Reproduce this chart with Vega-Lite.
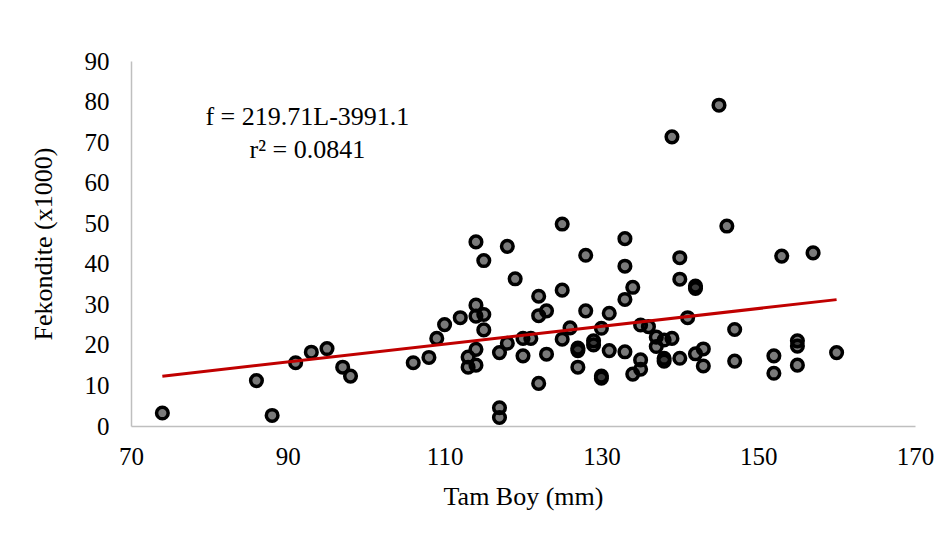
{
  "$schema": "https://vega.github.io/schema/vega-lite/v6.json",
  "width": 784,
  "height": 365,
  "autosize": {"type": "none"},
  "padding": {"left": 131, "top": 61, "right": 33, "bottom": 119},
  "background": "white",
  "config": {"view": {"stroke": null}, "font": "Liberation Serif"},
  "datasets": {
    "points": [
      {"L": 74, "F": 3.2}, {"L": 86, "F": 11.2}, {"L": 88, "F": 2.6}, {"L": 91, "F": 15.6},
      {"L": 93, "F": 18.2}, {"L": 95, "F": 19.1}, {"L": 97, "F": 14.5}, {"L": 98, "F": 12.3},
      {"L": 106, "F": 15.6}, {"L": 108, "F": 16.9}, {"L": 109, "F": 21.6}, {"L": 110, "F": 25.0},
      {"L": 112, "F": 26.7}, {"L": 113, "F": 17.0}, {"L": 113, "F": 14.5}, {"L": 114, "F": 29.8},
      {"L": 114, "F": 45.4}, {"L": 114, "F": 27.1}, {"L": 114, "F": 18.9}, {"L": 114, "F": 15.0},
      {"L": 115, "F": 40.8}, {"L": 115, "F": 27.5}, {"L": 115, "F": 23.7}, {"L": 117, "F": 18.1},
      {"L": 117, "F": 4.5}, {"L": 117, "F": 2.1}, {"L": 118, "F": 44.3}, {"L": 118, "F": 20.4},
      {"L": 119, "F": 36.3}, {"L": 120, "F": 21.6}, {"L": 120, "F": 17.3}, {"L": 121, "F": 21.6},
      {"L": 122, "F": 32.0}, {"L": 122, "F": 27.2}, {"L": 122, "F": 10.5}, {"L": 123, "F": 28.4},
      {"L": 123, "F": 17.7}, {"L": 125, "F": 33.5}, {"L": 125, "F": 21.4}, {"L": 125, "F": 49.8},
      {"L": 126, "F": 24.2}, {"L": 127, "F": 19.2}, {"L": 127, "F": 18.6}, {"L": 127, "F": 14.5},
      {"L": 128, "F": 42.1}, {"L": 128, "F": 28.4}, {"L": 129, "F": 21.0}, {"L": 129, "F": 20.0},
      {"L": 130, "F": 24.1}, {"L": 130, "F": 12.3}, {"L": 130, "F": 11.8}, {"L": 131, "F": 27.8},
      {"L": 131, "F": 18.6}, {"L": 133, "F": 46.2}, {"L": 133, "F": 39.4}, {"L": 133, "F": 31.2},
      {"L": 133, "F": 18.3}, {"L": 134, "F": 34.2}, {"L": 134, "F": 12.8}, {"L": 135, "F": 24.9},
      {"L": 135, "F": 16.3}, {"L": 135, "F": 14.0}, {"L": 136, "F": 24.5}, {"L": 137, "F": 21.9},
      {"L": 137, "F": 19.6}, {"L": 138, "F": 21.2}, {"L": 138, "F": 16.7}, {"L": 138, "F": 16.0},
      {"L": 139, "F": 21.6}, {"L": 139, "F": 71.3}, {"L": 140, "F": 41.5}, {"L": 140, "F": 36.2},
      {"L": 140, "F": 16.7}, {"L": 141, "F": 26.7}, {"L": 142, "F": 34.5}, {"L": 142, "F": 33.9},
      {"L": 142, "F": 17.8}, {"L": 143, "F": 19.0}, {"L": 143, "F": 14.8}, {"L": 145, "F": 79.1},
      {"L": 146, "F": 49.3}, {"L": 147, "F": 23.8}, {"L": 147, "F": 16.0}, {"L": 152, "F": 17.3},
      {"L": 152, "F": 13.0}, {"L": 153, "F": 41.9}, {"L": 155, "F": 21.0}, {"L": 155, "F": 19.7},
      {"L": 155, "F": 15.0}, {"L": 157, "F": 42.7}, {"L": 160, "F": 18.1}
    ],
    "trend": [{"L": 74, "F": 12.27}, {"L": 160, "F": 31.16}],
    "eq": [
      {"L": 92.5, "F": 76.3, "label": "f = 219.71L-3991.1"},
      {"L": 92.5, "F": 68.0, "label": "r² = 0.0841"}
    ]
  },
  "encoding": {
    "x": {
      "field": "L", "type": "quantitative",
      "scale": {"domain": [70, 170], "nice": false, "zero": false},
      "axis": {
        "values": [70, 90, 110, 130, 150, 170],
        "grid": false, "ticks": false, "labelFlush": false,
        "domainColor": "#bfbfbf", "domainWidth": 1.5,
        "labelFontSize": 25, "labelColor": "#000000", "labelPadding": 18,
        "labelFont": "Liberation Serif",
        "title": "Tam Boy (mm)", "titleFontSize": 26, "titleFontWeight": "normal",
        "titleColor": "#000000", "titleFont": "Liberation Serif", "titlePadding": 14
      }
    },
    "y": {
      "field": "F", "type": "quantitative",
      "scale": {"domain": [0, 90], "nice": false},
      "axis": {
        "values": [0, 10, 20, 30, 40, 50, 60, 70, 80, 90],
        "grid": false, "ticks": false, "labelFlush": false,
        "domainColor": "#bfbfbf", "domainWidth": 1.5,
        "labelFontSize": 25, "labelColor": "#000000", "labelPadding": 22,
        "labelFont": "Liberation Serif",
        "title": "Fekondite (x1000)", "titleFontSize": 26, "titleFontWeight": "normal",
        "titleColor": "#000000", "titleFont": "Liberation Serif", "titlePadding": 28
      }
    }
  },
  "layer": [
    {
      "data": {"name": "points"},
      "mark": {"type": "circle", "size": 135, "fill": "#000000", "fillOpacity": 0.52, "opacity": 1, "stroke": "#000000", "strokeWidth": 3.5}
    },
    {
      "data": {"name": "trend"},
      "mark": {"type": "line", "color": "#c00000", "strokeWidth": 3}
    },
    {
      "data": {"name": "eq"},
      "mark": {"type": "text", "fontSize": 26, "font": "Liberation Serif", "align": "center", "baseline": "middle", "color": "#000000"},
      "encoding": {"text": {"field": "label"}}
    }
  ]
}
